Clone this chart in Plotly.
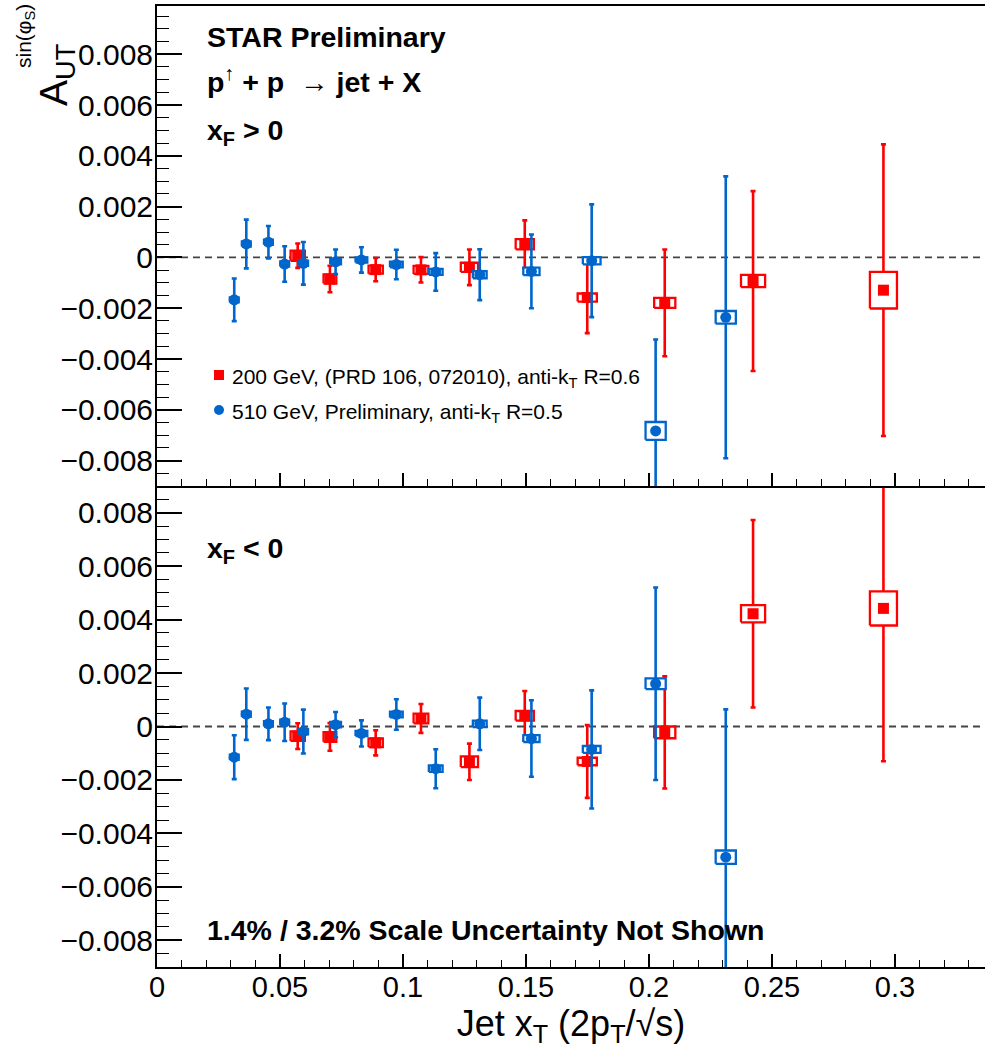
import plotly.graph_objects as go

# ---------------- data ----------------
blue_x = [0.0314, 0.0363, 0.0453, 0.0519, 0.0595, 0.0726, 0.0831, 0.0973, 0.1133, 0.1312, 0.1522, 0.1767, 0.2027, 0.2312]
red_x = [0.0572, 0.0703, 0.0889, 0.1073, 0.1270, 0.1495, 0.1749, 0.2064, 0.2423, 0.2953]
blue_xsys = [0.0018, 0.0018, 0.0018, 0.0018, 0.0019, 0.0022, 0.0024, 0.0026, 0.0028, 0.0028, 0.0033, 0.0036, 0.0041, 0.0041]
red_xsys = [0.0029, 0.0026, 0.0029, 0.0030, 0.0035, 0.0037, 0.0039, 0.0043, 0.0049, 0.0055]

# x_F > 0
top_blue_y = [-0.00167, 0.00053, 0.00060, -0.00026, -0.00023, -0.00017, -0.00010, -0.00028, -0.00057, -0.00068, -0.00055, -0.00013, -0.00683, -0.00236]
top_blue_err = [0.00084, 0.00096, 0.00064, 0.00070, 0.00084, 0.00048, 0.00050, 0.00058, 0.00074, 0.00100, 0.00145, 0.00222, 0.00360, 0.00555]
top_blue_sys = [0.00010, 0.00010, 0.00010, 0.00010, 0.00010, 0.00010, 0.00010, 0.00011, 0.00012, 0.00014, 0.00015, 0.00014, 0.00035, 0.00025]
top_red_y = [0.00007, -0.00085, -0.00048, -0.00049, -0.00039, 0.00052, -0.00158, -0.00179, -0.00093, -0.00129]
top_red_err = [0.00048, 0.00052, 0.00046, 0.00050, 0.00070, 0.00094, 0.00140, 0.00210, 0.00354, 0.00574]
top_red_sys = [0.00020, 0.00018, 0.00016, 0.00016, 0.00018, 0.00020, 0.00016, 0.00020, 0.00024, 0.00072]

# x_F < 0
bot_blue_y = [-0.00115, 0.00046, 0.00010, 0.00016, -0.00019, 0.00007, -0.00026, 0.00045, -0.00158, 0.00010, -0.00045, -0.00086, 0.00160, -0.00489]
bot_blue_err = [0.00082, 0.00096, 0.00061, 0.00070, 0.00082, 0.00047, 0.00049, 0.00057, 0.00073, 0.00098, 0.00143, 0.00221, 0.00360, 0.00553]
bot_blue_sys = [0.00010, 0.00010, 0.00010, 0.00010, 0.00010, 0.00010, 0.00010, 0.00011, 0.00012, 0.00012, 0.00013, 0.00013, 0.00020, 0.00025]
bot_red_y = [-0.00036, -0.00039, -0.00061, 0.00030, -0.00132, 0.00040, -0.00131, -0.00022, 0.00422, 0.00442]
bot_red_err = [0.00048, 0.00052, 0.00047, 0.00054, 0.00068, 0.00093, 0.00136, 0.00210, 0.00351, 0.00572]
bot_red_sys = [0.00018, 0.00018, 0.00016, 0.00018, 0.00020, 0.00018, 0.00014, 0.00022, 0.00032, 0.00064]

RED = "#ff0000"
BLUE = "#0066cc"
FONT = "Liberation Sans, Arial, Helvetica, sans-serif"

W, H = 985, 1051
L, R, T, B = 157, 0, 6, 84
PW, PH = W - L - R, H - T - B
split = 481 / PH  # bottom panel height fraction

fig = go.Figure()


def box_path(xs, ys, dx, dy):
    px, py = [], []
    for x, y, a, b in zip(xs, ys, dx, dy):
        px += [x - a, x + a, x + a, x - a, x - a, None]
        py += [y - b, y - b, y + b, y + b, y - b, None]
    return px, py


def add_series(xs, ys, errs, dxs, dys, color, symbol, size, xa, ya):
    # statistical error bars
    fig.add_trace(go.Scatter(
        x=xs, y=ys, mode="markers", xaxis=xa, yaxis=ya, showlegend=False,
        marker=dict(size=1, color="rgba(0,0,0,0)"),
        error_y=dict(type="data", array=errs, visible=True, color=color,
                     thickness=2.6, width=2.5),
        hoverinfo="skip"))
    # systematic boxes
    bx, by = box_path(xs, ys, dxs, dys)
    fig.add_trace(go.Scatter(
        x=bx, y=by, mode="lines", fill="toself", fillcolor="white",
        line=dict(color=color, width=2.3), xaxis=xa, yaxis=ya,
        showlegend=False, hoverinfo="skip"))
    # markers
    fig.add_trace(go.Scatter(
        x=xs, y=ys, mode="markers", xaxis=xa, yaxis=ya, showlegend=False,
        marker=dict(symbol=symbol, size=size, color=color, line=dict(width=0))))


# top panel (x2, y2)
add_series(red_x, top_red_y, top_red_err, red_xsys, top_red_sys, RED, "square", 11, "x2", "y2")
add_series(blue_x, top_blue_y, top_blue_err, blue_xsys, top_blue_sys, BLUE, "circle", 11, "x2", "y2")
# bottom panel (x, y)
add_series(red_x, bot_red_y, bot_red_err, red_xsys, bot_red_sys, RED, "square", 11, "x", "y")
add_series(blue_x, bot_blue_y, bot_blue_err, blue_xsys, bot_blue_sys, BLUE, "circle", 11, "x", "y")

xr = [0, PW / 2460]

common_x = dict(range=xr, showgrid=False, zeroline=False, showline=True, linecolor="black",
                linewidth=2, ticks="inside", ticklen=13, tickwidth=1.6, tickcolor="black",
                dtick=0.05, tick0=0,
                minor=dict(dtick=0.01, tick0=0, ticks="inside", ticklen=7, tickwidth=1.4,
                           tickcolor="black"),
                tickfont=dict(family=FONT, size=29, color="black"),
                ticklabelstandoff=-7)
common_y = dict(showgrid=False, zeroline=False, showline=True, linecolor="black", linewidth=2,
                ticks="inside", ticklen=25, tickwidth=1.6, tickcolor="black",
                dtick=0.002, tick0=0,
                minor=dict(dtick=0.0005, tick0=0, ticks="inside", ticklen=12, tickwidth=1.4,
                           tickcolor="black"),
                tickfont=dict(family=FONT, size=30, color="black"),
                ticklabelstandoff=-4)

fig.update_layout(
    width=W, height=H,
    margin=dict(l=L, r=R, t=T, b=B),
    paper_bgcolor="white", plot_bgcolor="white",
    showlegend=False,
    xaxis=dict(common_x, anchor="y", domain=[0, 1],
               title=dict(text="Jet x<sub>T</sub> (2p<sub>T</sub>/√s)",
                          font=dict(family=FONT, size=36, color="black"), standoff=4)),
    yaxis=dict(common_y, anchor="x", domain=[0, split], range=[-0.009, 0.009]),
    xaxis2=dict(common_x, anchor="y2", domain=[0, 1], matches="x", showticklabels=False,
                mirror=True),
    yaxis2=dict(common_y, anchor="x2", domain=[split, 1], range=[-0.009, 0.0099]),
)

# zero lines
for ya in ["y", "y2"]:
    fig.add_shape(type="line", xref="x" if ya == "y" else "x2", yref=ya,
                  x0=xr[0], x1=xr[1], y0=0, y1=0,
                  line=dict(color="#444444", width=1.8, dash="7px,5px"), layer="below")


def px2paper(px, py):
    return (px - L) / PW, (H - B - py) / PH


def add_text(txt, px, py, size, bold=False, xanchor="left", angle=0):
    x, y = px2paper(px, py)
    if bold:
        txt = "<b>" + txt + "</b>"
    fig.add_annotation(text=txt, x=x, y=y, xref="paper", yref="paper", showarrow=False,
                       xanchor=xanchor, yanchor="middle", textangle=angle,
                       font=dict(family=FONT, size=size, color="black"))


add_text("STAR Preliminary", 205, 37, 28.5, bold=True)
add_text("p<sup>↑</sup> + p  → jet + X", 205, 80, 28.5, bold=True)
add_text("x<sub>F</sub> &gt; 0", 205, 132, 28.5, bold=True)
add_text("x<sub>F</sub> &lt; 0", 205, 550, 28.5, bold=True)
add_text("1.4% / 3.2% Scale Uncertainty Not Shown", 205, 930, 28.5, bold=True)

# legend
add_text("200 GeV, (PRD 106, 072010), anti-k<sub>T</sub> R=0.6", 230, 378, 21)
add_text("510 GeV, Preliminary, anti-k<sub>T</sub> R=0.5", 230, 413, 21)
lx, ly1 = px2paper(219, 375)
_, ly2 = px2paper(219, 410)
hw, hh = 5 / PW, 5 / PH
fig.add_shape(type="rect", xref="paper", yref="paper", x0=lx - hw, x1=lx + hw,
              y0=ly1 - hh, y1=ly1 + hh, fillcolor=RED, line=dict(width=0))
fig.add_shape(type="circle", xref="paper", yref="paper", x0=lx - hw, x1=lx + hw,
              y0=ly2 - hh, y1=ly2 + hh, fillcolor=BLUE, line=dict(width=0))

# y-axis title
add_text("A<sub>UT</sub>", 56, 75, 39, xanchor="center", angle=-90)
add_text("sin(φ<sub>S</sub>)", 25, 36, 21, xanchor="center", angle=-90)

fig.write_html("out.html", post_script="document.body.style.margin='0px';",
               config={"displayModeBar": False})
